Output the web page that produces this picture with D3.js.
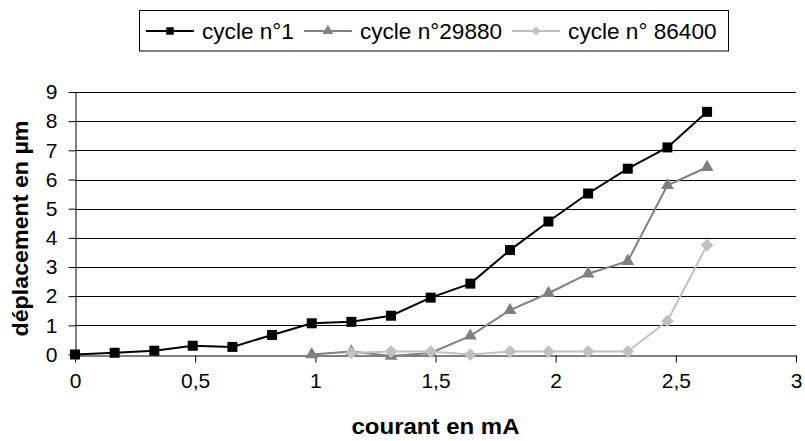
<!DOCTYPE html>
<html>
<head>
<meta charset="utf-8">
<script src="https://cdn.jsdelivr.net/npm/d3@7"></script>
<style>
  body { margin: 0; background: #fff; }
  text { font-family: Arial, "Liberation Sans", sans-serif; }
</style>
</head>
<body>
<svg id="chart" width="805" height="441"></svg>
<script>
const seriesNames = ["cycle n°1", "cycle n°29880", "cycle n° 86400"];
const x1 = [0, 0.165, 0.33, 0.49, 0.655, 0.82, 0.985, 1.15, 1.315, 1.48, 1.645, 1.81, 1.97, 2.135, 2.30, 2.465, 2.63];
const y1 = [0, 0.06, 0.13, 0.3, 0.26, 0.67, 1.07, 1.12, 1.33, 1.95, 2.43, 3.58, 4.56, 5.52, 6.37, 7.1, 8.32];
const x2 = [0.985, 1.15, 1.315, 1.48, 1.645, 1.81, 1.97, 2.135, 2.30, 2.465, 2.63];
const y2 = [0, 0.1, -0.05, 0.05, 0.64, 1.52, 2.1, 2.77, 3.2, 5.8, 6.42];
const x3 = [1.15, 1.315, 1.48, 1.645, 1.81, 1.97, 2.135, 2.30, 2.465, 2.63];
const y3 = [0.05, 0.1, 0.1, 0, 0.1, 0.1, 0.1, 0.1, 1.15, 3.75];
const xTicks = [0, 0.5, 1, 1.5, 2, 2.5, 3];
const yTicks = [0, 1, 2, 3, 4, 5, 6, 7, 8, 9];
const xTitle = "courant en mA";
const yTitle = "déplacement en µm";

const colors = ["#000000", "#808080", "#c0c0c0"];
const diamond = {
  draw(ctx, size) {
    const r = Math.sqrt(size / 2);
    ctx.moveTo(0, -r); ctx.lineTo(r, 0); ctx.lineTo(0, r); ctx.lineTo(-r, 0); ctx.closePath();
  }
};
const symbols = [d3.symbolSquare, d3.symbolTriangle, diamond];
const symSizes = [100, 72, 80];
const legendSizes = [56, 50, 40];

const svg = d3.select("#chart");
const pLeft = 75, pRight = 796, pTop = 92, pBottom = 354.5;
const x = d3.scaleLinear().domain([0, 3]).range([pLeft, pRight]);
const y = d3.scaleLinear().domain([0, 9]).range([pBottom, pTop]);

// gridlines
svg.append("g").selectAll("line").data(yTicks.filter(d => d > 0)).join("line")
  .attr("x1", pLeft).attr("x2", pRight)
  .attr("y1", d => Math.round(y(d)) + 0.5).attr("y2", d => Math.round(y(d)) + 0.5)
  .attr("stroke", "#000").attr("stroke-width", 1);

// axes
const fmt = d => String(d).replace(".", ",");
const xAxis = svg.append("g").attr("transform", `translate(0,${Math.round(pBottom) + 0.5})`)
  .call(d3.axisBottom(x).tickValues(xTicks).tickFormat(fmt).tickSize(7).tickPadding(6).tickSizeOuter(0));
const yAxis = svg.append("g").attr("transform", `translate(${pLeft + 0.5},0)`)
  .call(d3.axisLeft(y).tickValues(yTicks).tickFormat(d => d).tickSize(7).tickPadding(11).tickSizeOuter(0));
[xAxis, yAxis].forEach(a => {
  a.select(".domain").attr("stroke", "#000");
  a.selectAll(".tick line").attr("stroke", "#000");
  a.selectAll(".tick text").attr("font-size", 21).attr("fill", "#000")
    .attr("font-family", "Arial, 'Liberation Sans', sans-serif");
});
xAxis.selectAll(".tick text").attr("dy", "0.95em");

// titles
svg.append("text").attr("x", (pLeft + pRight) / 2).attr("y", 434)
  .attr("text-anchor", "middle").attr("font-weight", "bold").attr("font-size", 22)
  .attr("textLength", 168).attr("lengthAdjust", "spacingAndGlyphs")
  .text(xTitle);
svg.append("text").attr("transform", `translate(28,228.5) rotate(-90)`)
  .attr("text-anchor", "middle").attr("font-weight", "bold").attr("font-size", 22)
  .attr("textLength", 216).attr("lengthAdjust", "spacingAndGlyphs")
  .text(yTitle);

// series (drawn in order, last on top)
const seriesX = [x1, x2, x3];
const seriesY = [y1, y2, y3];
const line = d3.line().x(d => x(d[0])).y(d => y(d[1]));
for (let s = 0; s < 3; s++) {
  const pts = seriesX[s].map((v, i) => [v, seriesY[s][i]]);
  const g = svg.append("g");
  g.append("path").attr("d", line(pts)).attr("fill", "none")
    .attr("stroke", colors[s]).attr("stroke-width", 2);
  g.selectAll("path.m").data(pts).join("path").attr("class", "m")
    .attr("transform", d => `translate(${x(d[0])},${y(d[1])})`)
    .attr("d", d3.symbol().type(symbols[s]).size(symSizes[s]))
    .attr("fill", colors[s]);
}

// legend
const lg = svg.append("g");
const box = lg.append("rect").attr("fill", "#fff").attr("stroke", "#000").attr("stroke-width", 1);
const items = [];
seriesNames.forEach((name, s) => {
  const it = lg.append("g");
  it.append("line").attr("x1", 0).attr("x2", 48).attr("y1", 0).attr("y2", 0)
    .attr("stroke", colors[s]).attr("stroke-width", 2);
  it.append("path").attr("transform", "translate(24,0)")
    .attr("d", d3.symbol().type(symbols[s]).size(legendSizes[s])).attr("fill", colors[s]);
  const t = it.append("text").attr("x", 56).attr("y", 0).attr("dy", "0.35em")
    .attr("font-size", 22.6).text(name);
  items.push({ it, w: 56 + t.node().getComputedTextLength() });
});
const gap = 10, padL = 7, padR = 11;
const total = items.reduce((a, b) => a + b.w, 0) + gap * (items.length - 1);
const lx0 = 146;
let cur = lx0;
items.forEach(o => { o.it.attr("transform", `translate(${cur},31)`); cur += o.w + gap; });
box.attr("x", Math.round(lx0 - padL) + 0.5).attr("y", 10.5)
  .attr("width", Math.round(total + padL + padR)).attr("height", 40.5);
</script>
</body>
</html>
